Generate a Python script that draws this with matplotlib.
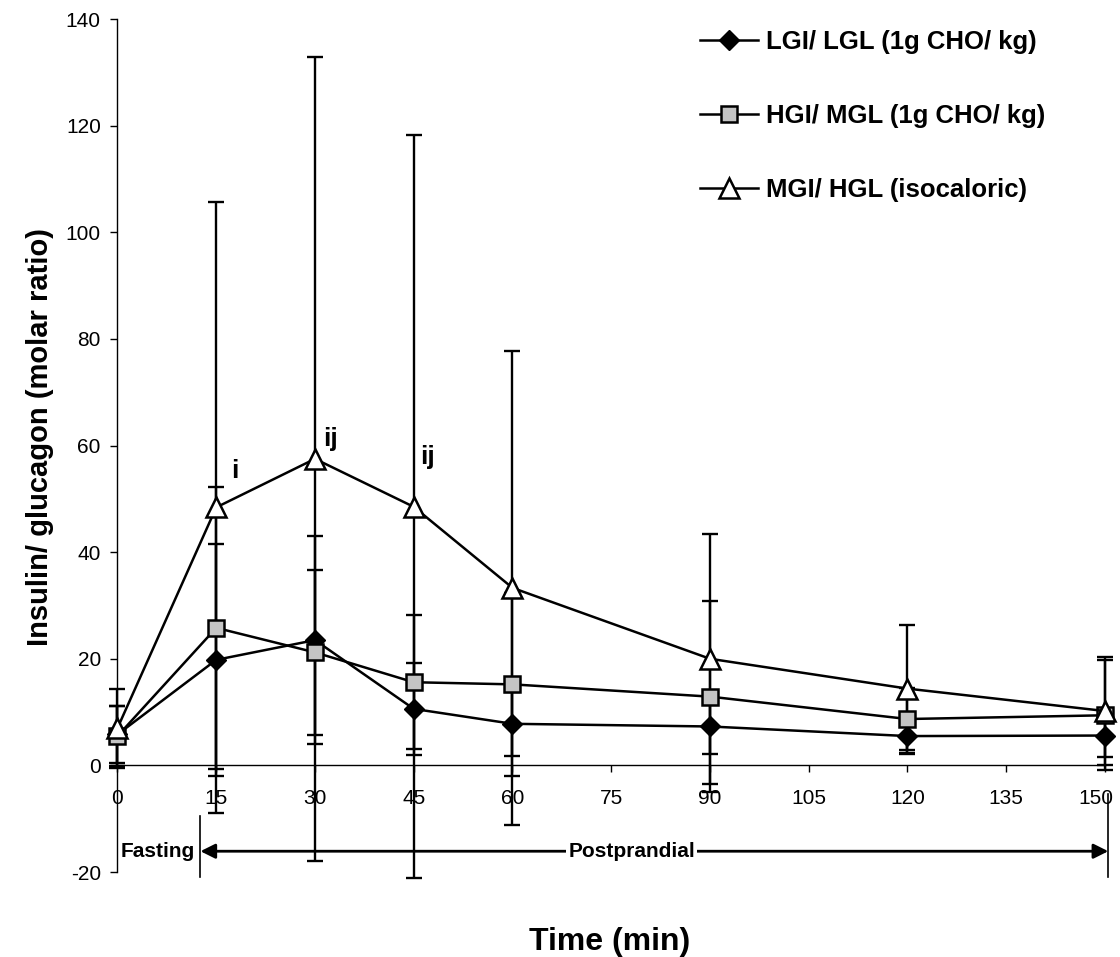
import matplotlib
matplotlib.use("Agg")
import matplotlib.pyplot as plt
from matplotlib.transforms import ScaledTranslation

plt.rcParams['font.family'] = ['Liberation Sans', 'DejaVu Sans']
plt.rcParams['axes.unicode_minus'] = False

# time points (min)
times = [0, 15, 30, 45, 60, 90, 120, 150]

# insulin/glucagon molar ratio, mean and SD per meal
lgi_lgl_mean = [5.8, 19.8, 23.5, 10.6, 7.8, 7.3, 5.5, 5.6]
lgi_lgl_sd = [5.3, 21.8, 19.5, 8.6, 6.0, 5.1, 3.3, 4.0]

hgi_mgl_mean = [5.5, 25.8, 21.2, 15.6, 15.2, 12.9, 8.7, 9.4]
hgi_mgl_sd = [5.6, 26.4, 15.5, 12.6, 17.2, 17.9, 5.9, 10.3]

mgi_hgl_mean = [7.0, 48.4, 57.5, 48.5, 33.3, 20.0, 14.4, 10.2]
mgi_hgl_sd = [7.4, 57.3, 75.4, 69.7, 44.5, 23.4, 12.0, 10.2]

labels = ["LGI/ LGL (1g CHO/ kg)", "HGI/ MGL (1g CHO/ kg)", "MGI/ HGL (isocaloric)"]

# significance letters: (x, baseline y, text)
sig_x = [17.3, 31.3, 45.9]
sig_y = [54.0, 60.0, 56.5]
sig_text = ["i", "ij", "ij"]

fig = plt.figure(figsize=(11.2, 9.57), dpi=100)
ax = fig.add_axes([0.1049, 0.0888, 0.8817, 0.8913])

series = [
    (lgi_lgl_mean, lgi_lgl_sd, dict(marker='D', markersize=10.5, markerfacecolor='black',
                                     markeredgecolor='black', markeredgewidth=1.0)),
    (hgi_mgl_mean, hgi_mgl_sd, dict(marker='s', markersize=12, markerfacecolor='#c4c4c4',
                                     markeredgecolor='black', markeredgewidth=1.8)),
    (mgi_hgl_mean, mgi_hgl_sd, dict(marker='^', markersize=15, markerfacecolor='white',
                                     markeredgecolor='black', markeredgewidth=1.8)),
]

# error bars first
for mean, sd, style in series:
    eb = ax.errorbar(times, mean, yerr=sd, fmt='none', ecolor='black',
                     elinewidth=1.7, capsize=6, capthick=1.7, zorder=2)
    for art in eb.get_children():
        art.set_clip_on(False)

handles = []
for (mean, sd, style), lab in zip(series, labels):
    line, = ax.plot(times, mean, color='black', linewidth=1.8, label=lab,
                    zorder=3, clip_on=False, **style)
    handles.append(line)

for x, y, t in zip(sig_x, sig_y, sig_text):
    ax.text(x, y, t, fontsize=19, fontweight='bold', ha='left', va='baseline')

ax.set_xlim(0, 150)
ax.set_ylim(-20, 140)
ax.set_xticks(range(0, 151, 15))
ax.set_yticks(range(-20, 141, 20))

ax.spines['top'].set_visible(False)
ax.spines['right'].set_visible(False)
ax.spines['bottom'].set_position(('data', 0))
ax.spines['bottom'].set_linewidth(1.0)
ax.spines['left'].set_linewidth(1.0)
ax.tick_params(axis='x', direction='out', length=5, width=1, labelsize=15, pad=12)
ax.tick_params(axis='y', direction='out', length=5, width=1, labelsize=15, pad=7)

# last x label nudged left so it stays inside the picture
last = ax.get_xticklabels()[-1]
last.set_transform(last.get_transform() + ScaledTranslation(-0.09, 0, fig.dpi_scale_trans))

# fasting / postprandial annotation under the axis
y_arrow = -16.1
ax.plot([12.6, 12.6], [-9.4, -21.0], color='black', linewidth=1.2, clip_on=False)
ax.plot([150.5, 150.5], [-5.3, -21.0], color='black', linewidth=1.2, clip_on=False)
ax.annotate('', xy=(12.6, y_arrow), xytext=(150.5, y_arrow),
            arrowprops=dict(arrowstyle='<|-|>', color='black', lw=2.0,
                            mutation_scale=22, shrinkA=0, shrinkB=0),
            annotation_clip=False)
ax.text(0.5, y_arrow, 'Fasting', fontsize=15, fontweight='bold', ha='left', va='center')
ax.text(78.1, y_arrow, 'Postprandial', fontsize=15, fontweight='bold', ha='center',
        va='center', bbox=dict(facecolor='white', edgecolor='none', pad=1.5))

fig.text(610 / 1120, 1 - 942 / 957, 'Time (min)', fontsize=23, fontweight='bold',
         ha='center', va='center')
fig.text(40 / 1120, 1 - 437 / 957, 'Insulin/ glucagon (molar ratio)', fontsize=21,
         fontweight='bold', ha='center', va='center', rotation=90)

ax.legend(handles=handles, loc='upper left', bbox_to_anchor=(700 / 1120, 1 - 30 / 957),
          bbox_transform=fig.transFigure, frameon=False,
          prop={'weight': 'bold', 'size': 18.5}, handlelength=2.25, handletextpad=0.3,
          labelspacing=1.95, borderpad=0, borderaxespad=0)

fig.savefig('out.png', dpi=100)
